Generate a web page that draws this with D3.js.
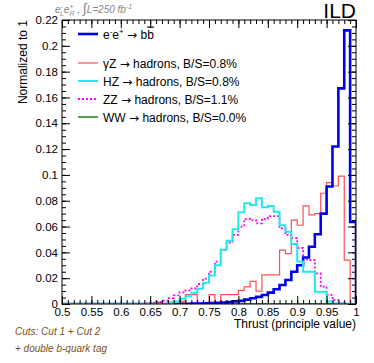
<!DOCTYPE html>
<html>
<head>
<meta charset="utf-8">
<script src="https://cdn.jsdelivr.net/npm/d3@7"></script>
<style>
  body { margin: 0; background: #fff; }
  svg { font-family: "Liberation Sans", Arial, sans-serif; }
  .axis path { display: none; }
  .axis line { stroke: #000; stroke-width: 1; }
  .axis text { font-size: 11.5px; fill: #000; font-family: "Liberation Sans", Arial, sans-serif; }
  .arrow { font-family: "DejaVu Sans", sans-serif; font-size: 12px; }
</style>
</head>
<body>
<svg width="374" height="363"></svg>
<script>
// bin lower edges, width 0.01 from 0.5 to 1.0
var binWidth = 0.01;
var binLow = d3.range(50).map(i => +(0.5 + i * binWidth).toFixed(2));

// e-e+ -> bb (signal)
var bbValues = [
  0, 0, 0, 0, 0, 0, 0, 0, 0, 0,
  0, 0, 0, 0, 0, 0, 0, 0, 0, 0,
  0.0001, 0.0002, 0.0003, 0.0004, 0.0005, 0.0007, 0.0009, 0.0012, 0.0016, 0.002,
  0.0024, 0.0034, 0.0044, 0.0055, 0.007, 0.0088, 0.0114, 0.0147, 0.0186, 0.025,
  0.030, 0.036, 0.0444, 0.054, 0.070, 0.091, 0.122, 0.167, 0.212, 0.0635
];
// gamma Z -> hadrons
var gzValues = [
  0, 0, 0, 0, 0, 0, 0, 0, 0, 0,
  0, 0, 0, 0, 0, 0, 0.0015, 0, 0.0015, 0,
  0.002, 0.0072, 0.0072, 0.0005, 0, 0.0072, 0.0005, 0.0072, 0.0072, 0.0072,
  0.0106, 0.0132, 0.0175, 0.010, 0.0225, 0.0225, 0.0225, 0.0418, 0.039, 0.065,
  0.061, 0.076, 0.069, 0.070, 0.0858, 0.094, 0.0914, 0.099, 0.034, 0
];
// HZ -> hadrons
var hzValues = [
  0, 0, 0, 0, 0, 0, 0, 0, 0, 0,
  0, 0, 0, 0, 0, 0, 0, 0, 0.0008, 0.002,
  0.004, 0.006, 0.0088, 0.0119, 0.0165, 0.022, 0.030, 0.042, 0.049, 0.058,
  0.071, 0.078, 0.0767, 0.0819, 0.075, 0.076, 0.0715, 0.061, 0.056, 0.0465,
  0.033, 0.025, 0.025, 0.0095, 0.0095, 0.002, 0.0005, 0.0003, 0, 0
];
// ZZ -> hadrons
var zzValues = [
  0, 0, 0, 0, 0, 0, 0, 0, 0, 0,
  0, 0, 0, 0, 0.0003, 0.0008, 0.0015, 0.0026, 0.0046, 0.0067,
  0.009, 0.0105, 0.012, 0.0155, 0.0196, 0.025, 0.0328, 0.0418, 0.0475, 0.0535,
  0.060, 0.066, 0.065, 0.0625, 0.066, 0.068, 0.068, 0.0586, 0.0535, 0.051,
  0.0434, 0.0346, 0.034, 0.0238, 0.0134, 0.007, 0.003, 0.001, 0.0003, 0
];
// WW -> hadrons
var wwValues = [
  0, 0, 0, 0, 0, 0, 0, 0, 0, 0,
  0, 0, 0, 0, 0, 0, 0, 0, 0, 0,
  0, 0, 0, 0, 0, 0, 0, 0, 0, 0,
  0, 0, 0, 0, 0, 0, 0, 0, 0, 0,
  0, 0, 0, 0, 0, 0, 0, 0, 0, 0
];

var xTicks = [0.5, 0.55, 0.6, 0.65, 0.7, 0.75, 0.8, 0.85, 0.9, 0.95, 1];
var yTicks = [0, 0.02, 0.04, 0.06, 0.08, 0.1, 0.12, 0.14, 0.16, 0.18, 0.2, 0.22];

var svg = d3.select("svg");
var mLeft = 62, mRight = 356, mTop = 20, mBottom = 304;

var x = d3.scaleLinear().domain([0.5, 1]).range([mLeft, mRight]);
var y = d3.scaleLinear().domain([0, 0.22]).range([mBottom, mTop]);

function fmt(d) { return String(+d.toFixed(2)); }

// clip
svg.append("clipPath").attr("id", "frame")
  .append("rect").attr("x", mLeft).attr("y", mTop - 1)
  .attr("width", mRight - mLeft).attr("height", mBottom - mTop + 1);

// histograms
var series = [
  { vals: wwValues, color: "#1a8a1a", width: 1.5, dash: null },
  { vals: gzValues, color: "#ff4f4f", width: 1.2, dash: null },
  { vals: zzValues, color: "#ff00ff", width: 1.8, dash: "2,2" },
  { vals: bbValues, color: "#0000ee", width: 2.6, dash: null },
  { vals: hzValues, color: "#22eaea", width: 2, dash: null }
];

var stepLine = d3.line()
  .x(d => x(d[0]))
  .y(d => y(d[1]))
  .curve(d3.curveStepAfter);

var g = svg.append("g").attr("clip-path", "url(#frame)");
series.forEach(function (s) {
  var pts = [[0.5, 0]];
  binLow.forEach((lo, i) => pts.push([lo, s.vals[i]]));
  pts.push([1.0, s.vals[s.vals.length - 1]]);
  pts.push([1.0, 0]);
  g.append("path")
    .attr("d", stepLine(pts))
    .attr("fill", "none")
    .attr("stroke", s.color)
    .attr("stroke-width", s.width)
    .attr("stroke-dasharray", s.dash);
});

// axes (ROOT style, ticks inside)
var minorX = d3.range(51).map(i => 0.5 + i * 0.01);
var minorY = d3.range(45).map(i => i * 0.005);

svg.append("g").attr("class", "axis").attr("transform", `translate(0,${mBottom})`)
  .call(d3.axisBottom(x).tickValues(xTicks).tickFormat(fmt).tickSizeInner(-8).tickSizeOuter(0).tickPadding(4));
svg.append("g").attr("class", "axis").attr("transform", `translate(0,${mBottom})`)
  .call(d3.axisBottom(x).tickValues(minorX).tickFormat("").tickSizeInner(-4).tickSizeOuter(0));
svg.append("g").attr("class", "axis").attr("transform", `translate(0,${mTop})`)
  .call(d3.axisTop(x).tickValues(xTicks).tickFormat("").tickSizeInner(-8).tickSizeOuter(0));
svg.append("g").attr("class", "axis").attr("transform", `translate(0,${mTop})`)
  .call(d3.axisTop(x).tickValues(minorX).tickFormat("").tickSizeInner(-4).tickSizeOuter(0));

svg.append("g").attr("class", "axis").attr("transform", `translate(${mLeft},0)`)
  .call(d3.axisLeft(y).tickValues(yTicks).tickFormat(fmt).tickSizeInner(-8).tickSizeOuter(0).tickPadding(4));
svg.append("g").attr("class", "axis").attr("transform", `translate(${mLeft},0)`)
  .call(d3.axisLeft(y).tickValues(minorY).tickFormat("").tickSizeInner(-4).tickSizeOuter(0));
svg.append("g").attr("class", "axis").attr("transform", `translate(${mRight},0)`)
  .call(d3.axisRight(y).tickValues(yTicks).tickFormat("").tickSizeInner(-8).tickSizeOuter(0));
svg.append("g").attr("class", "axis").attr("transform", `translate(${mRight},0)`)
  .call(d3.axisRight(y).tickValues(minorY).tickFormat("").tickSizeInner(-4).tickSizeOuter(0));

// frame
svg.append("rect")
  .attr("x", mLeft).attr("y", mTop)
  .attr("width", mRight - mLeft).attr("height", mBottom - mTop)
  .attr("fill", "none").attr("stroke", "#000").attr("stroke-width", 1);

// axis titles
svg.append("text")
  .attr("x", mRight).attr("y", 328)
  .attr("text-anchor", "end")
  .style("font-size", "12px")
  .text("Thrust (principle value)");

svg.append("text")
  .attr("transform", `translate(27,${mTop}) rotate(-90)`)
  .attr("text-anchor", "end")
  .style("font-size", "12px")
  .text("Normalized to 1");

// ILD label
svg.append("text")
  .attr("x", mRight).attr("y", 18)
  .attr("text-anchor", "end")
  .style("font-size", "21px")
  .text("ILD");

// beam / luminosity label
var lum = svg.append("text")
  .attr("x", 55).attr("y", 13)
  .style("font-size", "10px").style("font-style", "italic").attr("fill", "#888");
lum.append("tspan").text("e");
lum.append("tspan").attr("dy", -4).style("font-size", "7px").text("-");
lum.append("tspan").attr("dx", -3).attr("dy", 7).style("font-size", "7px").text("L");
lum.append("tspan").attr("dy", -3).text("e");
lum.append("tspan").attr("dy", -4).style("font-size", "7px").text("+");
lum.append("tspan").attr("dx", -4).attr("dy", 7).style("font-size", "7px").text("R");
lum.append("tspan").attr("dy", -3).text(" , ");
lum.append("tspan").style("font-size", "14px").style("font-style", "normal").text("\u222B");
lum.append("tspan").text("L=250 fb");
lum.append("tspan").attr("dy", -4).style("font-size", "7px").text("-1");

// legend
var legendItems = [
  { proc: "bb", rest: "", color: "#0000ee", width: 2.6, dash: null, y: 34 },
  { proc: "\u03B3Z", rest: " hadrons, B/S=0.8%", color: "#ff4f4f", width: 1.2, dash: null, y: 63 },
  { proc: "HZ", rest: " hadrons, B/S=0.8%", color: "#22eaea", width: 2, dash: null, y: 81 },
  { proc: "ZZ", rest: " hadrons, B/S=1.1%", color: "#ff00ff", width: 1.8, dash: "2,2", y: 99 },
  { proc: "WW", rest: " hadrons, B/S=0.0%", color: "#1a8a1a", width: 1.5, dash: null, y: 117 }
];
var lg = svg.append("g");
legendItems.forEach(function (d, i) {
  lg.append("line")
    .attr("x1", 78).attr("x2", 98).attr("y1", d.y).attr("y2", d.y)
    .attr("stroke", d.color).attr("stroke-width", d.width)
    .attr("stroke-dasharray", d.dash);
  var t = lg.append("text").attr("x", 103).attr("y", d.y + 4.5).style("font-size", "12px");
  if (i === 0) {
    t.append("tspan").text("e");
    t.append("tspan").attr("dy", -5).style("font-size", "8px").text("-");
    t.append("tspan").attr("dy", 5).text("e");
    t.append("tspan").attr("dy", -5).style("font-size", "8px").text("+");
    t.append("tspan").attr("dy", 5).text(" ");
    t.append("tspan").attr("class", "arrow").text("\u2192");
    t.append("tspan").text(" b");
    t.append("tspan").style("text-decoration", "overline").text("b");
  } else {
    t.append("tspan").text(d.proc + " ");
    t.append("tspan").attr("class", "arrow").text("\u2192");
    t.append("tspan").text(d.rest);
  }
});

// cuts text
svg.append("text")
  .attr("x", 15).attr("y", 335)
  .style("font-size", "10px").style("font-style", "italic").attr("fill", "#7a4f22")
  .text("Cuts: Cut 1 + Cut 2");
svg.append("text")
  .attr("x", 15).attr("y", 352)
  .style("font-size", "10px").style("font-style", "italic").attr("fill", "#7a4f22")
  .text("+ double b-quark tag");
</script>
</body>
</html>
